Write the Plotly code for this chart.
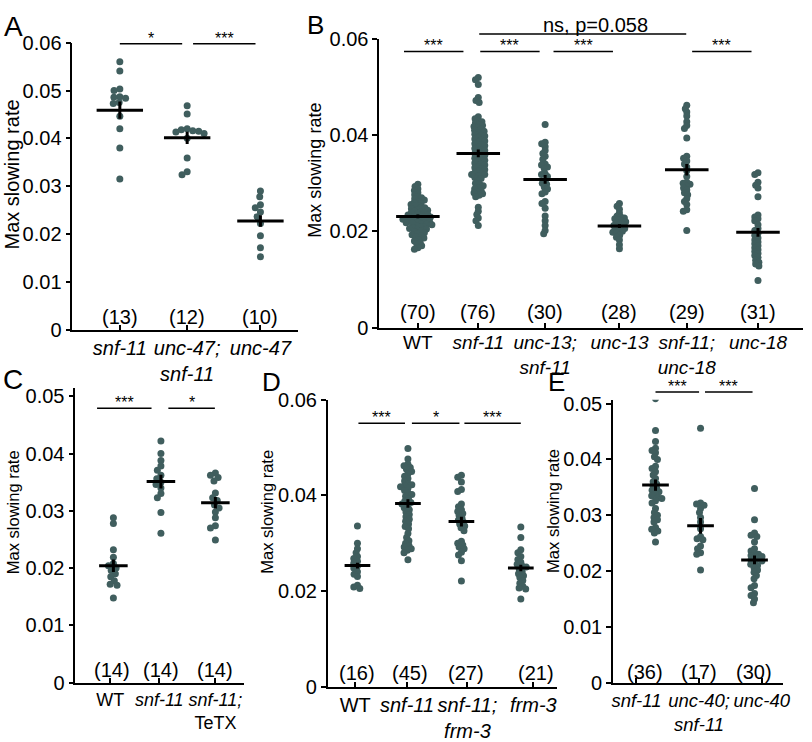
import math
import plotly.graph_objects as go

W, H = 812, 742
FONT = "Liberation Sans, Arial, Helvetica, sans-serif"
DOT = "#405e5e"

# ---------------- DATA ----------------
# Panel A
a_labels = ["<i>snf-11</i>", "<i>unc-47;</i><br><i>snf-11</i>", "<i>unc-47</i>"]
a_n = ["(13)", "(12)", "(10)"]
a_snf11 = [0.0560, 0.0541, 0.0503, 0.0500, 0.0487, 0.0486, 0.0484, 0.0475, 0.0473, 0.0446, 0.0420, 0.0380, 0.0315]
a_unc47_snf11 = [0.0468, 0.0451, 0.0420, 0.0418, 0.0416, 0.0413, 0.0410, 0.0400, 0.0359, 0.0330, 0.0324, 0.0415]
a_unc47 = [0.0290, 0.0278, 0.0261, 0.0255, 0.0246, 0.0236, 0.0222, 0.0196, 0.0171, 0.0152]
a_means = [0.0459, 0.0401, 0.0227]
a_sem = [0.0018, 0.0013, 0.0012]
a_sig = [(1.0, 1.887, "*"), (2.042, 2.930, "***")]
a_sig_y = 0.0598

# Panel B
b_labels = ["WT", "<i>snf-11</i>", "<i>unc-13;</i><br><i>snf-11</i>", "<i>unc-13</i>",
            "<i>snf-11;</i><br><i>unc-18</i>", "<i>unc-18</i>"]
b_n = ["(70)", "(76)", "(30)", "(28)", "(29)", "(31)"]
b_wt = [0.0298, 0.0293, 0.0288, 0.0285, 0.0280, 0.0276, 0.0272, 0.0270, 0.0268, 0.0265,
        0.0262, 0.0260, 0.0258, 0.0256, 0.0254, 0.0252, 0.0250, 0.0249, 0.0247, 0.0245,
        0.0244, 0.0242, 0.0240, 0.0239, 0.0238, 0.0236, 0.0235, 0.0234, 0.0232, 0.0231,
        0.0230, 0.0229, 0.0228, 0.0227, 0.0226, 0.0225, 0.0224, 0.0223, 0.0222, 0.0221,
        0.0220, 0.0219, 0.0218, 0.0217, 0.0216, 0.0215, 0.0214, 0.0212, 0.0210, 0.0209,
        0.0208, 0.0206, 0.0205, 0.0203, 0.0201, 0.0199, 0.0197, 0.0195, 0.0193, 0.0191,
        0.0189, 0.0186, 0.0183, 0.0180, 0.0177, 0.0174, 0.0170, 0.0166, 0.0163, 0.0232]
b_snf11 = [0.0520, 0.0515, 0.0505, 0.0478, 0.0472, 0.0468, 0.0438, 0.0434, 0.0430, 0.0428,
           0.0425, 0.0422, 0.0420, 0.0418, 0.0415, 0.0412, 0.0410, 0.0408, 0.0405, 0.0402,
           0.0400, 0.0398, 0.0395, 0.0392, 0.0390, 0.0388, 0.0385, 0.0382, 0.0380, 0.0378,
           0.0375, 0.0372, 0.0370, 0.0368, 0.0365, 0.0362, 0.0360, 0.0358, 0.0355, 0.0352,
           0.0350, 0.0348, 0.0345, 0.0342, 0.0340, 0.0338, 0.0335, 0.0332, 0.0330, 0.0328,
           0.0325, 0.0322, 0.0320, 0.0318, 0.0315, 0.0312, 0.0310, 0.0305, 0.0300, 0.0298,
           0.0295, 0.0290, 0.0288, 0.0285, 0.0282, 0.0280, 0.0278, 0.0275, 0.0272, 0.0250,
           0.0242, 0.0235, 0.0228, 0.0222, 0.0212, 0.0318]
b_unc13_snf11 = [0.0422, 0.0385, 0.0382, 0.0376, 0.0368, 0.0362, 0.0356, 0.0350, 0.0340, 0.0338,
                 0.0334, 0.0330, 0.0320, 0.0318, 0.0314, 0.0305, 0.0300, 0.0298, 0.0292, 0.0288,
                 0.0282, 0.0278, 0.0262, 0.0258, 0.0248, 0.0232, 0.0222, 0.0212, 0.0202, 0.0195]
b_unc13 = [0.0258, 0.0252, 0.0246, 0.0238, 0.0232, 0.0230, 0.0228, 0.0226, 0.0224, 0.0222,
           0.0220, 0.0218, 0.0216, 0.0214, 0.0212, 0.0210, 0.0208, 0.0206, 0.0204, 0.0202,
           0.0200, 0.0198, 0.0196, 0.0192, 0.0188, 0.0182, 0.0172, 0.0164]
b_snf11_unc18 = [0.0462, 0.0455, 0.0448, 0.0440, 0.0428, 0.0420, 0.0414, 0.0394, 0.0356, 0.0352,
                 0.0346, 0.0340, 0.0334, 0.0326, 0.0314, 0.0302, 0.0300, 0.0298, 0.0294, 0.0290,
                 0.0286, 0.0280, 0.0276, 0.0268, 0.0262, 0.0256, 0.0245, 0.0242, 0.0202]
b_unc18 = [0.0322, 0.0318, 0.0302, 0.0296, 0.0290, 0.0272, 0.0234, 0.0230, 0.0226, 0.0222,
           0.0214, 0.0206, 0.0202, 0.0196, 0.0192, 0.0186, 0.0182, 0.0178, 0.0174, 0.0170,
           0.0166, 0.0162, 0.0158, 0.0154, 0.0150, 0.0146, 0.0140, 0.0136, 0.0132, 0.0128, 0.0098]
b_means = [0.0231, 0.0362, 0.0308, 0.0211, 0.0328, 0.0198]
b_sem = [0.0004, 0.0008, 0.0009, 0.0004, 0.0012, 0.0009]
b_sig = [(0.796, 1.670, "***"), (1.917, 2.790, "***"), (2.994, 3.868, "***"), (5.032, 5.905, "***")]
b_sig_y = 0.0574
b_ns = (1.902, 4.945, "ns, p=0.058")
b_ns_y = 0.0610

# Panel C
c_labels = ["WT", "<i>snf-11</i>", "<i>snf-11;</i><br>TeTX"]
c_n = ["(14)", "(14)", "(14)"]
c_wt = [0.0288, 0.0278, 0.0232, 0.0219, 0.0208, 0.0204, 0.0200, 0.0196, 0.0190, 0.0185,
        0.0178, 0.0172, 0.0170, 0.0148]
c_snf11 = [0.0422, 0.0400, 0.0388, 0.0378, 0.0371, 0.0362, 0.0356, 0.0350, 0.0346, 0.0340,
           0.0330, 0.0323, 0.0297, 0.0261]
c_tetx = [0.0366, 0.0362, 0.0358, 0.0352, 0.0331, 0.0323, 0.0318, 0.0310, 0.0305, 0.0298,
          0.0288, 0.0274, 0.0270, 0.0249]
c_means = [0.0204, 0.0351, 0.0314]
c_sem = [0.0011, 0.0012, 0.0010]
c_sig = [(0.680, 1.748, "***"), (2.078, 2.990, "*")]
c_sig_y = 0.0479

# Panel D
d_labels = ["WT", "<i>snf-11</i>", "<i>snf-11;</i><br><i>frm-3</i>", "<i>frm-3</i>"]
d_n = ["(16)", "(45)", "(27)", "(21)"]
d_wt = [0.0336, 0.0300, 0.0288, 0.0280, 0.0272, 0.0268, 0.0262, 0.0258, 0.0252, 0.0248,
        0.0240, 0.0235, 0.0230, 0.0212, 0.0208, 0.0205]
d_snf11 = [0.0498, 0.0476, 0.0465, 0.0462, 0.0458, 0.0455, 0.0450, 0.0445, 0.0440, 0.0435,
           0.0430, 0.0425, 0.0422, 0.0420, 0.0418, 0.0415, 0.0410, 0.0405, 0.0402, 0.0398,
           0.0392, 0.0388, 0.0385, 0.0382, 0.0378, 0.0374, 0.0370, 0.0365, 0.0360, 0.0355,
           0.0350, 0.0346, 0.0340, 0.0335, 0.0330, 0.0320, 0.0312, 0.0305, 0.0300, 0.0295,
           0.0292, 0.0288, 0.0285, 0.0280, 0.0265]
d_snf11_frm3 = [0.0442, 0.0438, 0.0428, 0.0412, 0.0408, 0.0382, 0.0376, 0.0370, 0.0366, 0.0362,
                0.0358, 0.0352, 0.0348, 0.0344, 0.0340, 0.0336, 0.0332, 0.0326, 0.0304, 0.0300,
                0.0296, 0.0292, 0.0288, 0.0281, 0.0275, 0.0263, 0.0221]
d_frm3 = [0.0334, 0.0312, 0.0286, 0.0280, 0.0272, 0.0266, 0.0260, 0.0256, 0.0252, 0.0250,
          0.0246, 0.0240, 0.0236, 0.0232, 0.0228, 0.0222, 0.0216, 0.0210, 0.0206, 0.0204, 0.0183]
d_means = [0.0253, 0.0383, 0.0345, 0.0248]
d_sem = [0.0006, 0.0009, 0.0010, 0.0007]
d_sig = [(1.018, 1.873, "***"), (2.0, 2.873, "*"), (2.964, 4.0, "***")]
d_sig_y = 0.0551

# Panel E
e_labels = ["<i>snf-11</i>", "<i>unc-40;</i><br><i>snf-11</i>", "<i>unc-40</i>"]
e_n = ["(36)", "(17)", "(30)"]
e_snf11 = [0.0509, 0.0452, 0.0432, 0.0420, 0.0416, 0.0412, 0.0405, 0.0400, 0.0388, 0.0384,
           0.0378, 0.0372, 0.0366, 0.0360, 0.0356, 0.0352, 0.0348, 0.0345, 0.0342, 0.0338,
           0.0335, 0.0332, 0.0330, 0.0326, 0.0322, 0.0312, 0.0305, 0.0300, 0.0296, 0.0292,
           0.0288, 0.0278, 0.0275, 0.0272, 0.0268, 0.0252]
e_unc40_snf11 = [0.0456, 0.0322, 0.0320, 0.0318, 0.0312, 0.0305, 0.0296, 0.0288, 0.0276, 0.0262,
                 0.0258, 0.0256, 0.0245, 0.0240, 0.0233, 0.0230, 0.0202]
e_unc40 = [0.0348, 0.0292, 0.0268, 0.0264, 0.0262, 0.0252, 0.0240, 0.0236, 0.0232, 0.0230,
           0.0228, 0.0226, 0.0224, 0.0222, 0.0220, 0.0218, 0.0215, 0.0212, 0.0210, 0.0206,
           0.0202, 0.0198, 0.0192, 0.0186, 0.0174, 0.0170, 0.0160, 0.0156, 0.0150, 0.0143]
e_means = [0.0354, 0.0281, 0.0220]
e_sem = [0.0010, 0.0014, 0.0008]
e_sig = [(1.0, 1.8, "***"), (1.909, 2.782, "***")]
e_sig_y = 0.0521

# ---------------- LAYOUT CONFIG ----------------
panels = [
    dict(name="A", groups=[a_snf11, a_unc47_snf11, a_unc47], labels=a_labels, n=a_n,
         means=a_means, sem=a_sem, sig=a_sig, sig_y=a_sig_y,
         xpos=[1, 1.958, 3.0], lx=[1, 1.958, 3.0], nx=[1, 1.958, 3.0], lso=0,
         xd=[72 / W, 300 / W], yd=[1 - 331 / H, 1 - 33 / H], xr=[0.324, 3.535], yr=[0, 0.06],
         yt=[0, 0.01, 0.02, 0.03, 0.04, 0.05, 0.06], ytt=["0", "0.01", "0.02", "0.03", "0.04", "0.05", "0.06"],
         hw=0.33, nshift=13, swd=6.0, xfs=20, title_xy=(11, 170), title_fs=20, letter_xy=(13, 16), letter_fs=28),
    dict(name="B", groups=[b_wt, b_snf11, b_unc13_snf11, b_unc13, b_snf11_unc18, b_unc18],
         labels=b_labels, n=b_n, means=b_means, sem=b_sem, sig=b_sig, sig_y=b_sig_y,
         xpos=[1, 1.888, 2.871, 3.963, 4.953, 6.0], lx=[1, 1.888, 2.871, 3.963, 4.953, 6.0],
         nx=[1, 1.888, 2.871, 3.963, 4.953, 6.0], lso=-3,
         xd=[382 / W, 810 / W], yd=[1 - 329 / H, 1 - 29 / H], xr=[0.432, 6.662], yr=[0, 0.06],
         yt=[0, 0.02, 0.04, 0.06], ytt=["0", "0.02", "0.04", "0.06"],
         hw=0.32, nshift=16, swd=3.8, xfs=19, title_xy=(317, 165), title_fs=18, letter_xy=(318, 15), letter_fs=26),
    dict(name="C", groups=[c_wt, c_snf11, c_tetx], labels=c_labels, n=c_n,
         means=c_means, sem=c_sem, sig=c_sig, sig_y=c_sig_y,
         xpos=[1, 1.932, 3.0], lx=[0.94, 1.9, 3.0], nx=[0.97, 1.93, 3.0], lso=0,
         xd=[75 / W, 245 / W], yd=[1 - 698 / H, 1 - 392 / H], xr=[0.2524, 3.553], yr=[0, 0.0514],
         yt=[0, 0.01, 0.02, 0.03, 0.04, 0.05], ytt=["0", "0.01", "0.02", "0.03", "0.04", "0.05"],
         hw=0.28, nshift=13, swd=5.5, xfs=18, title_xy=(12, 521), title_fs=16.5, letter_xy=(12, 383), letter_fs=28),
    dict(name="D", groups=[d_wt, d_snf11, d_snf11_frm3, d_frm3], labels=d_labels, n=d_n,
         means=d_means, sem=d_sem, sig=d_sig, sig_y=d_sig_y,
         xpos=[1, 1.927, 2.909, 4.0], lx=[0.96, 1.91, 3.02, 4.23], nx=[1.0, 1.96, 2.99, 4.27], lso=0,
         xd=[330 / W, 562 / W], yd=[1 - 702 / H, 1 - 404 / H], xr=[0.4545, 4.673], yr=[0, 0.06],
         yt=[0, 0.02, 0.04, 0.06], ytt=["0", "0.02", "0.04", "0.06"],
         hw=0.236, nshift=14, swd=4.2, xfs=20, title_xy=(269, 520), title_fs=16.5, letter_xy=(273, 386), letter_fs=26),
    dict(name="E", groups=[e_snf11, e_unc40_snf11, e_unc40], labels=e_labels, n=e_n,
         means=e_means, sem=e_sem, sig=e_sig, sig_y=e_sig_y,
         xpos=[1, 1.827, 2.818], lx=[0.65, 1.8, 2.95], nx=[0.8, 1.8, 2.8], lso=0,
         xd=[618 / W, 790 / W], yd=[1 - 698 / H, 1 - 404 / H], xr=[0.218, 3.345], yr=[0, 0.0507],
         yt=[0, 0.01, 0.02, 0.03, 0.04, 0.05], ytt=["0", "0.01", "0.02", "0.03", "0.04", "0.05"],
         hw=0.245, nshift=11, swd=4.2, xfs=18.5, title_xy=(558, 520), title_fs=16.5, letter_xy=(561, 386), letter_fs=26),
]


def swarm(vals, ppx, ppy, d):
    order = sorted(range(len(vals)), key=lambda i: -vals[i])
    placed = []
    offs = [0.0] * len(vals)
    for i in order:
        y = vals[i] * ppy
        cands = [0.0]
        for (px, py) in placed:
            dy = abs(py - y)
            if dy < d:
                dx = math.sqrt(d * d - dy * dy)
                cands += [px + dx, px - dx]
        cands.sort(key=lambda c: (abs(c), c))
        chosen = 0.0
        for c in cands:
            if all((c - px) ** 2 + (y - py) ** 2 >= d * d - 1e-6 for px, py in placed):
                chosen = c
                break
        placed.append((chosen, y))
        offs[i] = chosen / ppx
    return offs


fig = go.Figure()
shapes = []
annotations = []

for k, p in enumerate(panels):
    idx = "" if k == 0 else str(k + 1)
    xa, ya = "x" + idx, "y" + idx
    ppx = (p["xd"][1] - p["xd"][0]) * W / (p["xr"][1] - p["xr"][0])
    ppy = (p["yd"][1] - p["yd"][0]) * H / (p["yr"][1] - p["yr"][0])

    def to_paper(xv, yv, p=p):
        xp = p["xd"][0] + (xv - p["xr"][0]) / (p["xr"][1] - p["xr"][0]) * (p["xd"][1] - p["xd"][0])
        yp = p["yd"][0] + (yv - p["yr"][0]) / (p["yr"][1] - p["yr"][0]) * (p["yd"][1] - p["yd"][0])
        return xp, yp

    for g, vals in enumerate(p["groups"]):
        xc = p["xpos"][g]
        offs = swarm(vals, ppx, ppy, p["swd"])
        fig.add_trace(go.Scatter(
            x=[xc + o for o in offs], y=vals, mode="markers", xaxis=xa, yaxis=ya,
            marker=dict(size=7, color=DOT, line=dict(width=0)), showlegend=False, hoverinfo="y"))

    mx, my = [], []
    for g, (m, s) in enumerate(zip(p["means"], p["sem"])):
        xc = p["xpos"][g]
        mx += [xc - p["hw"], xc + p["hw"], None, xc, xc, None]
        my += [m, m, None, m - s, m + s, None]
    fig.add_trace(go.Scatter(x=mx, y=my, mode="lines", xaxis=xa, yaxis=ya,
                             line=dict(color="black", width=3), showlegend=False, hoverinfo="skip"))

    # n labels
    for g, t in enumerate(p["n"]):
        annotations.append(dict(x=p["nx"][g], y=0, xref=xa, yref=ya, text=t, showarrow=False,
                                xanchor="center", yanchor="middle", yshift=p["nshift"],
                                font=dict(family=FONT, size=20, color="black")))

    # significance bars
    for (x0, x1, lab) in p["sig"]:
        px0, py0 = to_paper(x0, p["sig_y"])
        px1, _ = to_paper(x1, p["sig_y"])
        shapes.append(dict(type="line", xref="paper", yref="paper", x0=px0, x1=px1, y0=py0, y1=py0,
                           line=dict(color="black", width=1.5)))
        annotations.append(dict(x=(px0 + px1) / 2, y=py0, xref="paper", yref="paper", text=lab,
                                showarrow=False, xanchor="center", yanchor="bottom", yshift=-5,
                                font=dict(family=FONT, size=16, color="black")))
    if p["name"] == "B":
        px0, py0 = to_paper(b_ns[0], b_ns_y)
        px1, _ = to_paper(b_ns[1], b_ns_y)
        shapes.append(dict(type="line", xref="paper", yref="paper", x0=px0, x1=px1, y0=py0, y1=py0,
                           line=dict(color="black", width=1.5)))
        annotations.append(dict(x=600 / W, y=1 - 15 / H, xref="paper", yref="paper", text=b_ns[2],
                                showarrow=False, xanchor="center", yanchor="middle",
                                font=dict(family=FONT, size=20, color="black")))

    # y title and panel letter
    tx, ty = p["title_xy"]
    annotations.append(dict(x=tx / W, y=1 - ty / H, xref="paper", yref="paper", text="Max slowing rate",
                            textangle=-90, showarrow=False, xanchor="center", yanchor="middle",
                            font=dict(family=FONT, size=p["title_fs"], color="black")))
    lx, ly = p["letter_xy"]
    annotations.append(dict(x=lx / W, y=1 - ly / H, xref="paper", yref="paper", text=p["name"],
                            showarrow=False, xanchor="center", yanchor="middle",
                            font=dict(family=FONT, size=p["letter_fs"], color="black")))

    fig.layout["xaxis" + idx] = dict(
        domain=p["xd"], range=p["xr"], anchor=ya, showline=True, linecolor="black", linewidth=1.5,
        ticks="inside", ticklen=5, tickwidth=1.5, tickcolor="black", tickangle=0,
        ticklabelstandoff=p["lso"],
        tickvals=p["lx"], ticktext=p["labels"],
        tickfont=dict(family=FONT, size=p["xfs"], color="black"), showgrid=False, zeroline=False,
        fixedrange=True)
    fig.layout["yaxis" + idx] = dict(
        domain=p["yd"], range=p["yr"], anchor=xa, showline=True, linecolor="black", linewidth=1.5,
        ticks="outside", ticklen=5, tickwidth=1.5, tickcolor="black",
        tickvals=p["yt"], ticktext=p["ytt"],
        tickfont=dict(family=FONT, size=20, color="black"), showgrid=False, zeroline=False,
        fixedrange=True)

fig.update_layout(width=W, height=H, margin=dict(l=0, r=0, t=0, b=0),
                  paper_bgcolor="white", plot_bgcolor="white",
                  shapes=shapes, annotations=annotations, showlegend=False)

fig.write_html("out.html")
